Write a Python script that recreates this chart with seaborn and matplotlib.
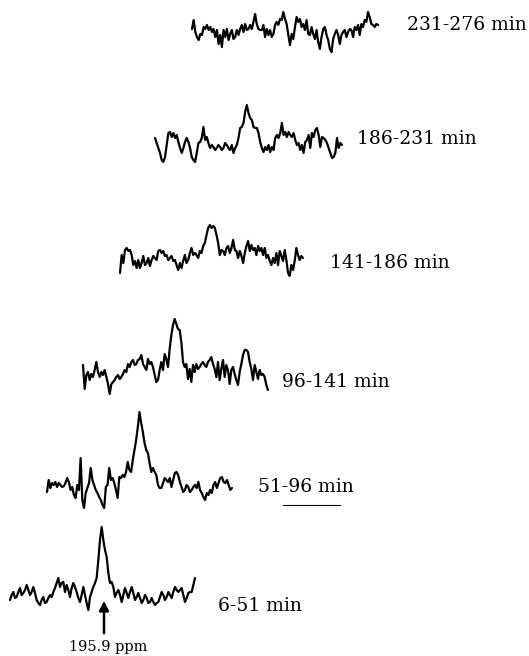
import numpy as np
import pandas as pd
import matplotlib
matplotlib.use("Agg")
import matplotlib.pyplot as plt
import seaborn as sns

# Time windows of the stacked 13C spectra (bottom to top)
labels = ["6-51 min", "51-96 min", "96-141 min", "141-186 min", "186-231 min", "231-276 min"]

# Intensities (arbitrary units), evenly spaced along each spectrum
s1 = [-5, 0, 3, -3, -2, 3, 7, 0, 2, 5, 10, 5, 0, 3, 8, 2, -5, -8, -10, -5,
      -2, -8, -7, -3, 0, -2, 3, 7, 12, 17, 8, 12, 13, 3, 10, 5, -2, 7, 12, 8,
      3, -3, -7, 0, 8, 0, -8, -15, -2, 3, 8, 12, 17, 35, 55, 68, 55, 45, 38, 22,
      12, 13, 8, -2, 2, 5, 0, -7, 0, 7, 2, -3, 3, 8, 2, -5, -2, 2, -3, -8,
      -5, 0, -3, -8, -7, -3, -7, -10, -8, -7, -2, 3, 0, -5, -2, 3, 0, -3, 3, 8,
      5, 3, 5, 7, 0, -7, -3, 2, 3, 3, 10, 17]
s2 = [-7, 5, -3, 2, 0, 3, -2, 2, 0, -2, -1, 2, 7, 3, -5, -2, -10, -13, 0, -5,
      27, -15, -23, -8, -3, 2, 17, 5, 0, -5, -8, -12, -15, -20, -23, -2, 0, 17, 5, 7,
      2, -5, -13, 8, 7, 10, 8, 13, 23, 15, 13, 25, 35, 45, 58, 73, 62, 53, 42, 35,
      32, 22, 13, 17, 13, 10, 0, -3, -3, 2, 7, 5, 3, 7, -2, 5, 12, 13, 10, 3,
      -2, -7, -5, 0, -2, -7, -5, -2, 0, -3, 3, -5, -8, -12, -15, -8, -10, -5, -8, 0,
      3, -3, 2, 7, 8, 3, 2, 5, 0, -5, -3]
s3 = [7, -17, -3, 0, -8, -2, -5, 2, 10, 0, -5, 0, -3, 2, -5, -12, -22, -12, -10, -8,
      -5, -3, -7, -5, -2, 2, 0, 8, 5, 10, 12, 7, 8, 12, 13, 17, 8, 5, 2, 13,
      8, 10, 5, -3, -10, -8, 2, 10, 2, 18, 13, 5, 23, 37, 47, 53, 48, 43, 42, 30,
      10, 5, 8, -7, 3, -10, 7, 0, 8, 3, 5, 8, 10, 7, 5, 10, 12, 15, 8, 3,
      -5, 10, -8, 3, 12, -5, 7, 2, -12, 2, 5, -2, -8, -13, 0, 8, 17, 22, 22, 20,
      10, 3, -8, 7, 0, -7, 2, -3, -2, -5, -13, -18]
s4 = [-15, 3, -5, 8, 10, 7, 8, 3, -7, -3, -10, -2, -10, -5, 2, -7, -5, 0, -8, -2,
      2, 0, -2, 7, 8, 5, 7, 2, 3, -2, 0, 2, -3, -2, -7, -12, -5, -10, -3, 3,
      -5, -2, 5, 10, 3, 5, 3, 0, 7, 5, 12, 15, 23, 30, 33, 30, 32, 30, 23, 15,
      3, 8, 7, 3, 10, 12, 5, 10, 18, 8, 7, 0, 7, 2, -5, 5, 12, 17, 7, 13,
      8, 10, 3, 12, 7, 10, 3, 10, 0, 3, -3, -7, 0, -5, 5, -7, 7, 2, -3, 8,
      -2, -15, -18, -7, -12, -3, 10, 3, -2, 2, 0]
s5 = [7, 2, -3, -8, -15, -17, -12, 0, 12, 13, 8, 12, 7, 10, 3, -3, -8, -3, 3, 7,
      3, -3, -12, -15, -17, -8, 2, 3, 7, 18, 5, 8, 2, -3, 0, -2, -5, -3, 0, -2,
      -5, -3, 2, 0, -3, -5, 0, -8, -3, 0, 7, 17, 18, 22, 33, 40, 32, 27, 25, 18,
      17, 17, 12, 3, -3, -7, -2, -5, 0, -7, -2, -5, 7, 10, 7, 12, 22, 10, 13, 8,
      13, 10, 8, 12, 5, 0, 2, -5, 0, -8, 3, 5, 10, -3, 12, 8, 15, 17, 10, -2,
      8, 7, 5, 2, -3, -8, -13, -12, -8, 7, -3, 2, 0]
s6 = [3, 12, 0, -5, -8, -2, -3, 5, 3, 7, 2, 5, 0, 3, -5, 2, -12, -3, -15, 2,
      -5, 3, -8, -2, 2, -7, -5, 2, -3, 3, 7, 0, 8, 2, 3, 7, 3, 10, 18, 8,
      3, 2, 2, 7, -5, 3, -3, 2, -5, -2, 7, 10, 7, 13, 12, 20, 13, 8, -3, -13,
      -2, -7, 5, 15, 10, 13, 5, 8, 2, 12, -2, -3, 5, -2, -7, 2, -10, -17, -5, 3,
      5, -3, -8, -17, -20, -7, -2, 2, -3, -12, -3, 0, 2, -5, 0, 3, 2, -5, 5, 2,
      7, -3, 8, 5, 12, 10, 20, 15, 8, 7, 5, 8, 7]
series = [s1, s2, s3, s4, s5, s6]
peak_label = "195.9 ppm"

sns.set_style("white")
plt.rcParams['font.family'] = ['DejaVu Serif', 'DejaVu Sans']

fig = plt.figure(figsize=(5.29, 6.56), dpi=100)
ax = fig.add_axes([0, 0, 1, 1])

# layout of the stacked plot (pixel-like canvas)
x_start = [10, 47, 83, 120, 155, 192]
span = [185, 185, 185, 183, 187, 186]
baseline = [595, 485, 372, 258, 145, 32]
label_pos = [(218, 606), (258, 487), (282, 382), (330, 263), (357, 139), (407, 25)]

frames = []
for i, s in enumerate(series):
    n = len(s)
    frames.append(pd.DataFrame({
        "x": x_start[i] + np.arange(n) * span[i] / (n - 1),
        "y": baseline[i] - np.asarray(s, dtype=float),
        "window": labels[i],
    }))
df = pd.concat(frames, ignore_index=True)

for lab in labels:
    sub = df[df["window"] == lab]
    sns.lineplot(data=sub, x="x", y="y", ax=ax, color="black", lw=1.6,
                 sort=False, estimator=None)

for lab, (tx, ty) in zip(labels, label_pos):
    ax.text(tx, ty, lab, ha="left", va="center", fontsize=13.5, color="black")

# underline under "96 min"
ax.plot([283, 340], [505, 505], color="black", lw=0.8)

# peak arrow
ax.annotate("", xy=(104, 598), xytext=(104, 636),
            arrowprops=dict(arrowstyle="-|>", color="black", lw=1.8, mutation_scale=14))
ax.text(108, 647, peak_label, ha="center", va="center", fontsize=10.5, color="black")

ax.set_xlim(0, 529)
ax.set_ylim(656, 0)
ax.axis("off")
fig.savefig("out.png", dpi=100, facecolor="white")
